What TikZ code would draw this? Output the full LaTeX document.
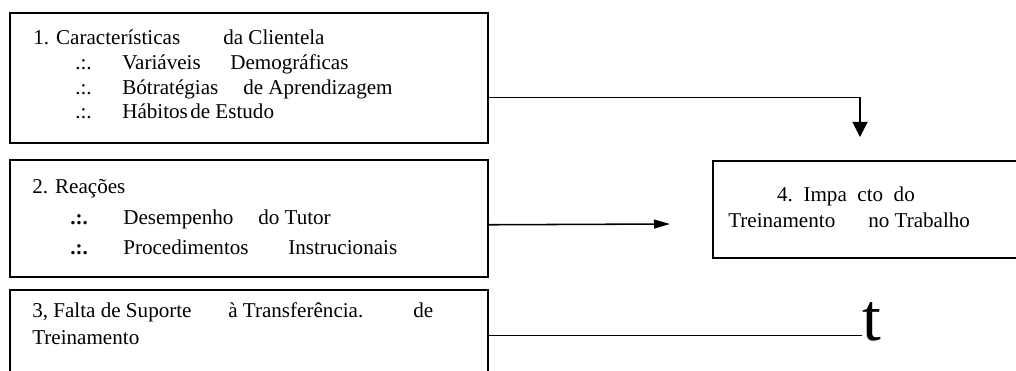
\documentclass[tikz,border=0pt]{standalone}
\usepackage{fontspec}
\setmainfont{Liberation Serif}
\usetikzlibrary{arrows.meta}
\tikzset{>={Triangle[length=0.38cm,width=0.38cm]}}
\tikzset{
  box/.style={draw=black,line width=1.1pt,anchor=north west,inner sep=0pt},
  txt/.style={anchor=base west,inner sep=0pt,font=\fontsize{15}{18}\selectfont},
  link/.style={line width=0.8pt}
}

\begin{document}
\begin{tikzpicture}
\useasboundingbox (0,0) rectangle (25.4,-9.275);
\clip (0,0) rectangle (25.4,-9.275);

% boxes
\node[box,minimum width=11.95cm,minimum height=3.25cm] (b1) at(0.225,-0.3){};
\node[box,minimum width=11.95cm,minimum height=2.925cm] (b2) at(0.225,-3.975){};
\node[box,minimum width=11.95cm,minimum height=2.275cm] (b3) at(0.225,-7.225){};
\node[box,minimum width=7.8cm,minimum height=2.425cm] (b4) at(17.8,-4.0){};

% box 1
\node[txt] (t11) at(0.825,-1.125){1. Características};
\node[txt] (t12) at(5.575,-1.125){da Clientela};
\node[txt] (p12) at(1.875,-1.75){.:.};
\node[txt] (t13) at(3.05,-1.75){Variáveis};
\node[txt] (t14) at(5.75,-1.75){Demográficas};
\node[txt] (p13) at(1.875,-2.375){.:.};
\node[txt] (t15) at(3.05,-2.375){Bótratégias};
\node[txt] (t16) at(6.075,-2.375){de Aprendizagem};
\node[txt] (p14) at(1.875,-2.975){.:.};
\node[txt] (t17) at(3.05,-2.975){Hábitos};
\node[txt] (t18) at(4.75,-2.975){de Estudo};

% box 2
\node[txt] (t21) at(0.8,-4.85){2. Reações};
\node[txt] (p22) at(1.75,-5.625){\textbf{.:.}};
\node[txt] (t22) at(3.075,-5.625){Desempenho};
\node[txt] (t23) at(6.45,-5.625){do Tutor};
\node[txt] (p23) at(1.75,-6.375){\textbf{.:.}};
\node[txt] (t24) at(3.075,-6.375){Procedimentos};
\node[txt] (t25) at(7.2,-6.375){Instrucionais};

% box 3
\node[txt] (t31) at(0.8,-7.925){3, Falta de Suporte};
\node[txt] (t32) at(5.7,-7.925){à Transferência.};
\node[txt] (t33) at(10.325,-7.925){de};
\node[txt] (t34) at(0.8,-8.625){Treinamento};

% box 4
\node[txt,anchor=base] (t41) at(21.15,-5.05){4.~~Impa~~cto~~do};
\node[txt] (t42) at(18.2,-5.7){Treinamento};
\node[txt] (t43) at(21.7,-5.7){no Trabalho};

% connectors
\coordinate (a1) at(21.5,-3.425);
\coordinate (a2) at(16.75,-5.6);
\node[inner sep=0pt,anchor=base west,font=\fontsize{48}{48}\selectfont] (up) at(21.55,-8.5){t};

\draw[link,->] ([yshift=-0.5cm]b1.east) -| (a1);
\draw[link,line width=1.1pt,-{Triangle[length=0.4cm,width=0.22cm]}] ([yshift=-0.1625cm]b2.east) --(a2);
\draw[link] (b3.east) --(b3.east -| up.west);

\end{tikzpicture}
\end{document}
